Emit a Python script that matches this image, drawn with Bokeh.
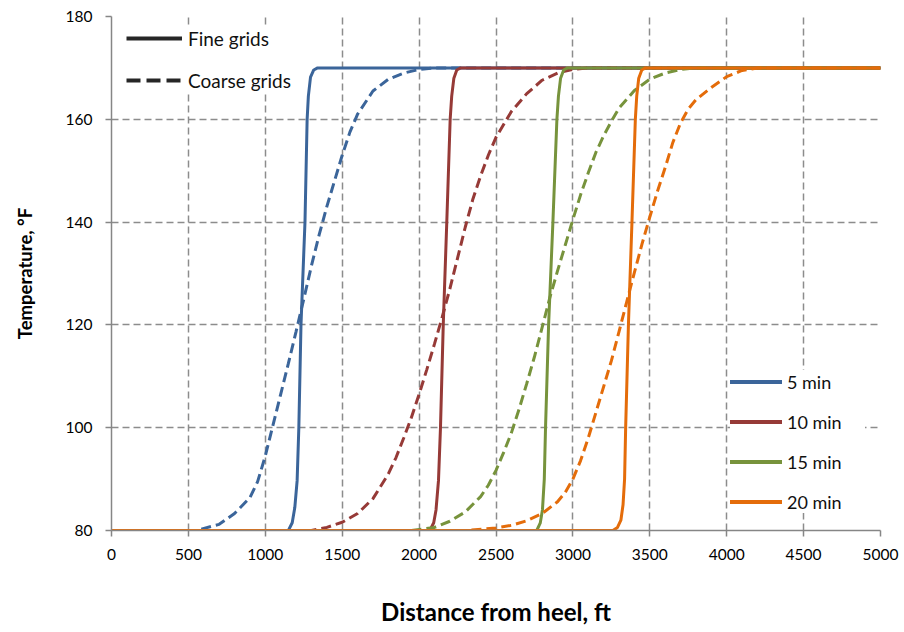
from bokeh.plotting import figure
from bokeh.models import Range1d, FixedTicker, Legend, LegendItem
from bokeh.embed import file_html
from bokeh.resources import INLINE

FONT = "Lato"
NAN = float("nan")

# Axis ticks
x_ticks = [0, 500, 1000, 1500, 2000, 2500, 3000, 3500, 4000, 4500, 5000]
y_ticks = [80, 100, 120, 140, 160, 180]

# Temperature profiles along the lateral (distance ft, temperature F)
fine_5min_x = [0, 1150, 1175, 1192, 1207, 1218, 1232, 1258, 1272, 1280, 1294, 1315, 1340, 5000]
fine_5min_t = [80, 80, 81.5, 84.5, 89.7, 100, 120, 140, 160, 164.5, 168.2, 169.6, 170, 170]

coarse_5min_x = [0, 550, 700, 800, 900, 950, 1000, 1050, 1100, 1150, 1200, 1250, 1300,
                 1350, 1400, 1450, 1500, 1550, 1600, 1700, 1800, 1900, 2000, 2100, 5000]
coarse_5min_t = [80, 80, 81.2, 83.3, 86.4, 89.5, 94.5, 100.5, 106.5, 112.5, 118.7, 125, 131.5,
                 137.5, 143, 148, 153, 157.5, 161, 165.5, 167.8, 169, 169.7, 170, 170]

fine_10min_x = [0, 2070, 2095, 2110, 2126, 2139, 2157, 2180, 2202, 2212, 2226, 2245, 2270, 5000]
fine_10min_t = [80, 80, 81.5, 84, 89.7, 100, 120, 140, 160, 164.5, 168, 169.6, 170, 170]

coarse_10min_x = [0, 1300, 1400, 1500, 1600, 1700, 1800, 1850, 1900, 1950, 2000, 2050, 2100,
                  2150, 2200, 2250, 2300, 2350, 2400, 2450, 2500, 2600, 2700, 2800, 2900,
                  3000, 3100, 5000]
coarse_10min_t = [80, 80, 80.6, 81.6, 83.3, 86.2, 91, 94.2, 98, 102, 106.5, 111.3, 116.3,
                  121.5, 127, 133, 139, 144.5, 149, 153, 156.5, 161.5, 165, 167.6, 169,
                  169.7, 170, 170]

fine_15min_x = [0, 2765, 2788, 2802, 2814, 2822, 2842, 2870, 2896, 2906, 2920, 2940, 2965, 5000]
fine_15min_t = [80, 80, 81.5, 84, 90, 100, 120, 140, 160, 164.5, 168, 169.6, 170, 170]

coarse_15min_x = [0, 1950, 2100, 2200, 2300, 2400, 2450, 2500, 2550, 2600, 2650, 2700, 2750,
                  2800, 2850, 2900, 2950, 3000, 3050, 3100, 3150, 3200, 3250, 3300, 3400,
                  3500, 3600, 3700, 3800, 5000]
coarse_15min_t = [80, 80, 80.6, 81.8, 83.6, 86.6, 88.8, 91.7, 95.2, 99, 103.6, 108.6, 113.8,
                  119.5, 125.3, 130.5, 135.5, 140.5, 145.3, 149.6, 153.6, 156.8, 159.6, 162.2, 165.6,
                  167.8, 169, 169.7, 170, 170]

fine_20min_x = [0, 3260, 3290, 3312, 3326, 3336, 3343, 3361, 3384, 3406, 3415, 3428, 3448, 3472, 5000]
fine_20min_t = [80, 80, 80.6, 82, 85, 90, 100, 120, 140, 160, 164.5, 168, 169.6, 170, 170]

coarse_20min_x = [0, 2300, 2500, 2600, 2700, 2800, 2900, 2950, 3000, 3050, 3100, 3150, 3200,
                  3250, 3300, 3350, 3400, 3450, 3500, 3550, 3600, 3650, 3700, 3750, 3800,
                  3900, 4000, 4100, 4200, 5000]
coarse_20min_t = [80, 80, 80.5, 81, 81.9, 83.3, 85.6, 87.4, 90, 93.6, 98, 103, 108,
                  113, 118.7, 124.5, 130.2, 135.8, 141, 146, 150.6, 155.5, 159.3, 162, 163.8,
                  166.2, 168.3, 169.5, 170, 170]

series = [
    ("5 min", "#3B659A", fine_5min_x, fine_5min_t, coarse_5min_x, coarse_5min_t),
    ("10 min", "#963A37", fine_10min_x, fine_10min_t, coarse_10min_x, coarse_10min_t),
    ("15 min", "#77933C", fine_15min_x, fine_15min_t, coarse_15min_x, coarse_15min_t),
    ("20 min", "#E46C0A", fine_20min_x, fine_20min_t, coarse_20min_x, coarse_20min_t),
]

p = figure(
    frame_width=769, frame_height=514,
    x_range=Range1d(0, 5000), y_range=Range1d(80, 180),
    output_backend="svg", toolbar_location=None,
    min_border_left=111, min_border_right=24, min_border_top=16, min_border_bottom=102,
    background_fill_color="white", border_fill_color="white",
)
p.outline_line_color = None

# Grid
GRID = "#8C8C8C"
for g, ticks in ((p.xgrid, x_ticks), (p.ygrid, y_ticks)):
    g.ticker = FixedTicker(ticks=ticks)
    g.grid_line_color = GRID
    g.grid_line_width = 1.5
    g.grid_line_dash = "7 4"

# Axes
AXIS = "#868686"
for ax, ticks in ((p.xaxis, x_ticks), (p.yaxis, y_ticks)):
    ax.ticker = FixedTicker(ticks=ticks)
    ax.axis_line_color = AXIS
    ax.axis_line_width = 1.5
    ax.major_tick_line_color = AXIS
    ax.major_tick_line_width = 1.5
    ax.major_tick_out = 6
    ax.major_tick_in = 0
    ax.minor_tick_line_color = None
    ax.major_label_text_font = FONT
    ax.major_label_text_font_size = "15.5px"
    ax.major_label_text_color = "#000000"
    ax.axis_label_text_font = FONT
    ax.axis_label_text_font_style = "bold"
    ax.axis_label_text_color = "#000000"

p.xaxis.axis_label = "Distance from heel, ft"
p.yaxis.axis_label = "Temperature, °F"
p.xaxis.axis_label_text_font_size = "24px"
p.yaxis.axis_label_text_font_size = "18.5px"
p.xaxis.major_label_standoff = 12
p.yaxis.major_label_standoff = 13
p.xaxis.axis_label_standoff = 34
p.yaxis.axis_label_standoff = 27

# Curves: solid = fine grids, dashed = coarse grids
time_keys = []
for label, color, fx, ft, cx, ct in series:
    p.line(fx, ft, line_color=color, line_width=3, line_join="round")
    p.line(cx, ct, line_color=color, line_width=3, line_dash="10 5")
    # legend-only sample (single NaN point, draws nothing on the plot)
    key = p.line([NAN], [NAN], line_color=color, line_width=4, line_cap="round")
    time_keys.append((label, key))

# Line-style key samples
r_fine = p.line([NAN], [NAN], line_color="#262626", line_width=4)
r_coarse = p.line([NAN], [NAN], line_color="#262626", line_width=4, line_dash="14 6")

style_legend = Legend(
    items=[LegendItem(label="Fine grids", renderers=[r_fine]),
           LegendItem(label="Coarse grids", renderers=[r_coarse])],
    location=(15, 438), orientation="vertical",
    glyph_width=56, glyph_height=24, label_height=24, label_width=105,
    label_standoff=6, spacing=18, padding=8, margin=0,
    label_text_font=FONT, label_text_font_size="19px", label_text_color="#111111",
    border_line_color=None, background_fill_color="white", background_fill_alpha=1.0,
)

time_legend = Legend(
    items=[LegendItem(label=lab, renderers=[r]) for lab, r in time_keys],
    location=(619, 17), orientation="vertical",
    glyph_width=52, glyph_height=23, label_height=23, label_width=78,
    label_standoff=5, spacing=17, padding=12, margin=0,
    label_text_font=FONT, label_text_font_size="18px", label_text_color="#111111",
    border_line_color=None, background_fill_color="white", background_fill_alpha=1.0,
)
p.add_layout(style_legend)
p.add_layout(time_legend)

open("out.html", "w").write(file_html(p, INLINE))
